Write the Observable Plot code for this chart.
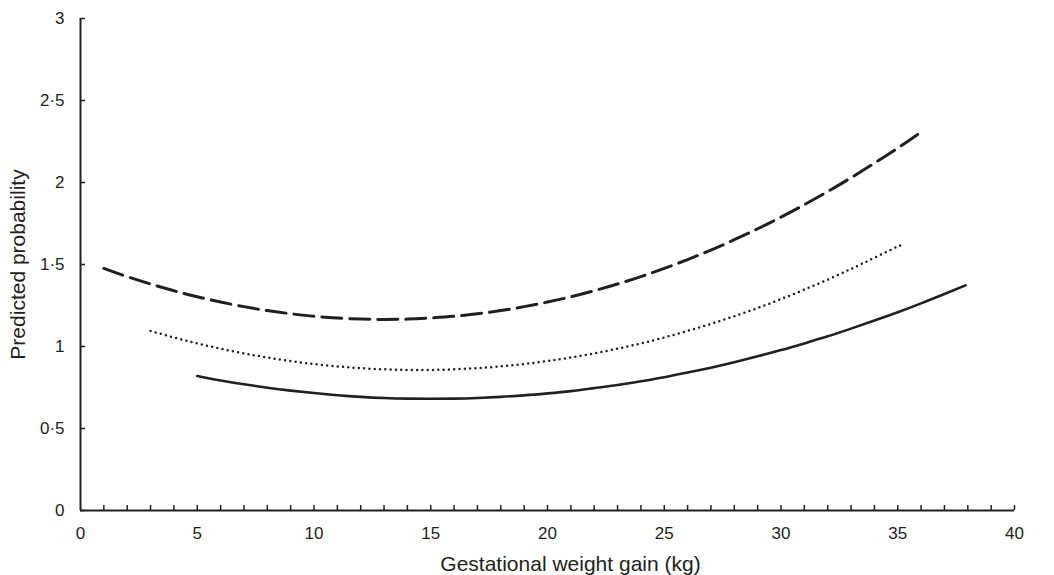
<!DOCTYPE html>
<html>
<head>
<meta charset="utf-8">
<script src="https://cdn.jsdelivr.net/npm/d3@7"></script>
<script src="https://cdn.jsdelivr.net/npm/@observablehq/plot@0.6"></script>
<style>
  body { margin: 0; background: #fff; }
  #chart svg { display: block; }
</style>
</head>
<body>
<div id="chart"></div>
<script>
// ---- Text ----
const xTitle = "Gestational weight gain (kg)";
const yTitle = "Predicted probability";

// ---- Ticks ----
const xMajorTicks = [0, 5, 10, 15, 20, 25, 30, 35, 40];
const xMinorTicks = [1,2,3,4,5,6,7,8,9,10,11,12,13,14,15,16,17,18,19,20,21,22,23,24,25,26,27,28,29,30,31,32,33,34,35,36,37,38,39,40];
const yTicks = [0, 0.5, 1, 1.5, 2, 2.5, 3];

// ---- Series ----
const dashedGain = [1,2,3,4,5,6,7,8,9,10,11,12,13,14,15,16,17,18,19,20,21,22,23,24,25,26,27,28,29,30,31,32,33,34,35,36];
const dashedProb = [1.476,1.426,1.381,1.340,1.303,1.271,1.243,1.219,1.200,1.184,1.174,1.167,1.165,1.167,1.174,1.184,1.200,1.219,1.243,1.271,1.303,1.340,1.381,1.426,1.476,1.530,1.588,1.651,1.718,1.789,1.865,1.945,2.029,2.118,2.210,2.308];

const dottedGain = [3,4,5,6,7,8,9,10,11,12,13,14,15,16,17,18,19,20,21,22,23,24,25,26,27,28,29,30,31,32,33,34,35,35.2];
const dottedProb = [1.095,1.055,1.019,0.987,0.958,0.933,0.911,0.893,0.879,0.868,0.861,0.857,0.857,0.861,0.868,0.879,0.893,0.911,0.933,0.958,0.987,1.019,1.055,1.095,1.138,1.185,1.235,1.289,1.347,1.408,1.473,1.541,1.610,1.620];

const solidGain = [5,6,7,8,9,10,11,12,13,14,15,16,17,18,19,20,21,22,23,24,25,26,27,28,29,30,31,32,33,34,35,36,37,37.9];
const solidProb = [0.820,0.793,0.770,0.749,0.731,0.716,0.703,0.693,0.686,0.682,0.681,0.682,0.686,0.693,0.702,0.714,0.728,0.746,0.765,0.788,0.813,0.841,0.871,0.904,0.940,0.978,1.019,1.062,1.109,1.158,1.209,1.263,1.320,1.373];

const toRows = (xs, ys) => xs.map((x, i) => ({x, y: ys[i]}));
const dashed = toRows(dashedGain, dashedProb);
const dotted = toRows(dottedGain, dottedProb);
const solid = toRows(solidGain, solidProb);

const ink = "#231f20";
const fmt = d => String(d).replace(".", "\u00b7");

const plot = Plot.plot({
  width: 1054,
  height: 575,
  marginLeft: 80,
  marginRight: 40,
  marginTop: 18,
  marginBottom: 65,
  style: { fontFamily: "'Liberation Sans', Arial, sans-serif", color: ink, background: "#fff" },
  x: { domain: [0, 40], axis: null },
  y: { domain: [0, 3], axis: null },
  marks: [
    Plot.line(dashed, {x: "x", y: "y", curve: "natural", stroke: ink, strokeWidth: 3, strokeDasharray: "20,8"}),
    Plot.line(dotted, {x: "x", y: "y", curve: "natural", stroke: ink, strokeWidth: 2.5, strokeDasharray: "0,5.3", strokeLinecap: "round"}),
    Plot.line(solid, {x: "x", y: "y", curve: "natural", stroke: ink, strokeWidth: 2.6}),
    // inward minor ticks
    Plot.axisX({ticks: xMinorTicks, tickSize: -5, tickFormat: () => "", label: null, stroke: ink, strokeWidth: 1.5}),
    Plot.axisY({ticks: yTicks, tickSize: -5, tickFormat: () => "", label: null, stroke: ink, strokeWidth: 1.5}),
    // tick labels
    Plot.axisX({ticks: xMajorTicks, tickSize: 0, tickPadding: 16, fontSize: 17, label: null}),
    Plot.axisY({ticks: yTicks, tickSize: 0, tickPadding: 16, fontSize: 17, tickFormat: fmt, label: null}),
    // axis lines
    Plot.ruleY([0], {stroke: ink, strokeWidth: 2}),
    Plot.ruleX([0], {stroke: ink, strokeWidth: 2}),
    // titles
    Plot.text([xTitle], {text: d => d, frameAnchor: "bottom", dy: 60, dx: 23, fontSize: 21, fill: ink}),
    Plot.text([yTitle], {text: d => d, frameAnchor: "left", textAnchor: "middle", dx: -62, rotate: -90, fontSize: 21, fill: ink})
  ]
});
document.getElementById("chart").appendChild(plot);
</script>
</body>
</html>
